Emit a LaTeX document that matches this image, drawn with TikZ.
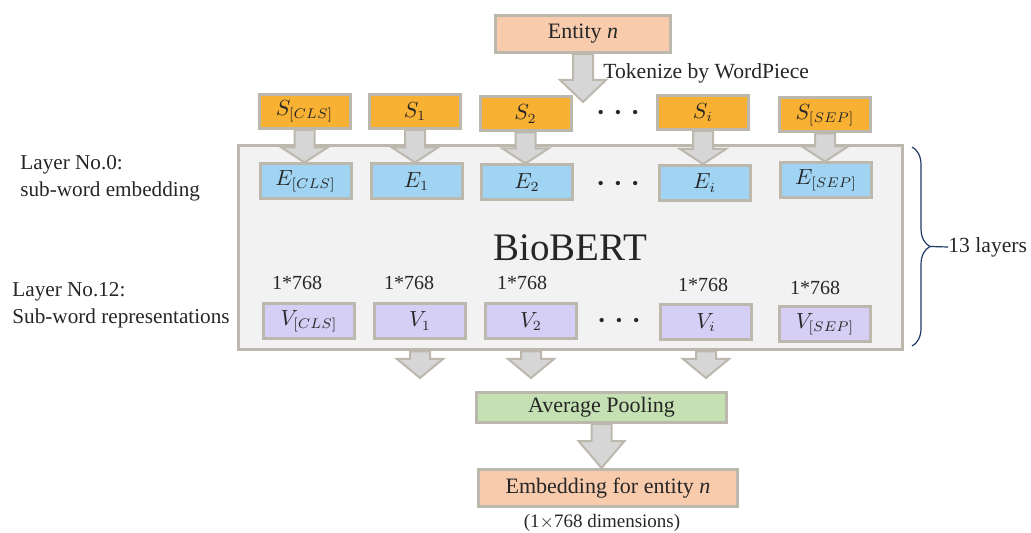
\documentclass[tikz,border=0pt]{standalone}
\usepackage{fontspec}
\setmainfont{Liberation Serif}
\usetikzlibrary{calc,decorations.pathreplacing}

\definecolor{boxgray}{HTML}{BCB8AE}
\definecolor{arrowfill}{HTML}{D6D6D6}
\definecolor{tokorange}{HTML}{F8B133}
\definecolor{embblue}{HTML}{A0D4F2}
\definecolor{reppurple}{HTML}{D5CFF5}
\definecolor{entpeach}{HTML}{F8CBAD}
\definecolor{poolgreen}{HTML}{C5E0B3}
\definecolor{bertfill}{HTML}{F2F2F2}
\definecolor{bracenavy}{HTML}{1F3864}
\definecolor{textdark}{HTML}{262626}

% vertical block arrow: start, tip, head length
\newcommand{\blockarrow}[3]{%
  \draw[blockarrow] let \p1=(#1), \p2=(#2) in
    (\x1-5pt,\y1) -- (\x1-5pt,\y2+#3) -- (\x1-11.5pt,\y2+#3) -- (\x1,\y2)
    -- (\x1+11.5pt,\y2+#3) -- (\x1+5pt,\y2+#3) -- (\x1+5pt,\y1) -- cycle;}

\begin{document}
\begin{tikzpicture}[x=0.5pt, y=-0.5pt,
    every node/.style={text=textdark},
    box/.style={rectangle, draw=boxgray, line width=1.5pt, inner sep=0pt, font=\fontsize{10.5}{12}\selectfont},
    token/.style={box, fill=tokorange, minimum width=45.5pt, minimum height=17pt},
    embed/.style={box, fill=embblue, minimum width=45.5pt, minimum height=17.5pt},
    rep/.style={box, fill=reppurple, minimum width=45.5pt, minimum height=17.5pt},
    dim/.style={font=\fontsize{10}{12}\selectfont},
    dotsrow/.style={font=\fontsize{9}{10}\selectfont},
    sidelabel/.style={align=left, anchor=west, inner sep=0pt, font=\fontsize{10.6}{13.5}\selectfont},
    blockarrow/.style={draw=boxgray, fill=arrowfill, line width=1pt, line join=miter}
]
\useasboundingbox (0,0) rectangle (1031,533);

% BioBERT body
\node[box, fill=bertfill, minimum width=332pt, minimum height=102pt, font=\fontsize{19.5}{22}\selectfont] (bert) at (570,248) {BioBERT};

% Input entity
\node[box, fill=entpeach, minimum width=87.5pt, minimum height=18.5pt, font=\fontsize{11}{13}\selectfont] (entity) at (583,34) {Entity \textit{n}};
\node[anchor=west, inner sep=0pt, font=\fontsize{10.8}{12}\selectfont] (tokenize) at (603,73) {Tokenize by WordPiece};

% Sub-word tokens
\node[token] (S0) at (304.5,111.5) {$S_{[CLS]}$};
\node[token] (S1) at (415,111.5) {$S_1$};
\node[token] (S2) at (525.5,114) {$S_2$};
\node[dotsrow] (sdots) at (618,114) {\textbullet\hspace{5.5pt}\textbullet\hspace{5.5pt}\textbullet};
\node[token] (Si) at (703,112.5) {$S_i$};
\node[token] (S9) at (825,115) {$S_{[SEP]}$};

% Layer 0
\node[embed] (E0) at (305.5,181.5) {$E_{[CLS]}$};
\node[embed] (E1) at (416.5,181.5) {$E_1$};
\node[embed] (E2) at (527,182.5) {$E_2$};
\node[dotsrow] (edots) at (618,185) {\textbullet\hspace{5.5pt}\textbullet\hspace{5.5pt}\textbullet};
\node[embed] (Ei) at (704.5,183) {$E_i$};
\node[embed] (E9) at (826,180.5) {$E_{[SEP]}$};

% Layer 12
\node[rep] (V0) at (309,321) {$V_{[CLS]}$};
\node[rep] (V1) at (420,321) {$V_1$};
\node[rep] (V2) at (531,321.5) {$V_2$};
\node[dotsrow] (vdots) at (619,322) {\textbullet\hspace{5.5pt}\textbullet\hspace{5.5pt}\textbullet};
\node[rep] (Vi) at (706,322.5) {$V_i$};
\node[rep] (V9) at (825,324) {$V_{[SEP]}$};

\node[dim] (d0) at (297,283) {1*768};
\node[dim] (d1) at (409,283) {1*768};
\node[dim] (d2) at (522,283) {1*768};
\node[dim] (di) at (703,285) {1*768};
\node[dim] (d9) at (815,288) {1*768};

% Left labels
\node[sidelabel] (layer0) at (20,178.5) {Layer No.0:\\sub-word embedding};
\node[sidelabel] (layer12) at (12,305) {Layer No.12:\\Sub-word representations};

% Output
\node[box, fill=poolgreen, minimum width=125pt, minimum height=15pt, font=\fontsize{11}{13}\selectfont] (pool) at (601.5,407.5) {Average Pooling};
\node[box, fill=entpeach, minimum width=129.5pt, minimum height=18.5pt, font=\fontsize{11}{13}\selectfont] (emb) at (608,488) {Embedding for entity \textit{n}};
\node[font=\fontsize{9.5}{11}\selectfont] (dims) at (602,523) {(1$\times$768 dimensions)};

% Arrows
\coordinate (tok) at ([yshift=-24pt]entity.south);
\blockarrow{entity.south}{tok}{11pt}
\blockarrow{S0.south}{E0.north}{7.5pt}
\blockarrow{S1.south}{E1.north}{7.5pt}
\blockarrow{S2.south}{E2.north}{7.5pt}
\blockarrow{Si.south}{Ei.north}{7.5pt}
\blockarrow{S9.south}{E9.north}{7.5pt}
\coordinate (t1) at (V1 |- 0,378);
\coordinate (t2) at (V2 |- 0,378);
\coordinate (ti) at (Vi |- 0,378);
\blockarrow{V1 |- bert.south}{t1}{9.5pt}
\blockarrow{V2 |- bert.south}{t2}{9.5pt}
\blockarrow{Vi |- bert.south}{ti}{9.5pt}
\blockarrow{pool.south}{emb.north}{13.5pt}

% Layer count
\draw[bracenavy, line width=0.6pt, decorate, decoration={brace, amplitude=9pt}] (912,147) -- (912,346) coordinate[midway, xshift=9pt] (tip);
\node[anchor=west, inner sep=0pt, font=\fontsize{10.8}{13}\selectfont] (layers) at (948,247) {13 layers};
\draw[bracenavy, line width=0.6pt] (tip) -- (layers.west);

\end{tikzpicture}
\end{document}
